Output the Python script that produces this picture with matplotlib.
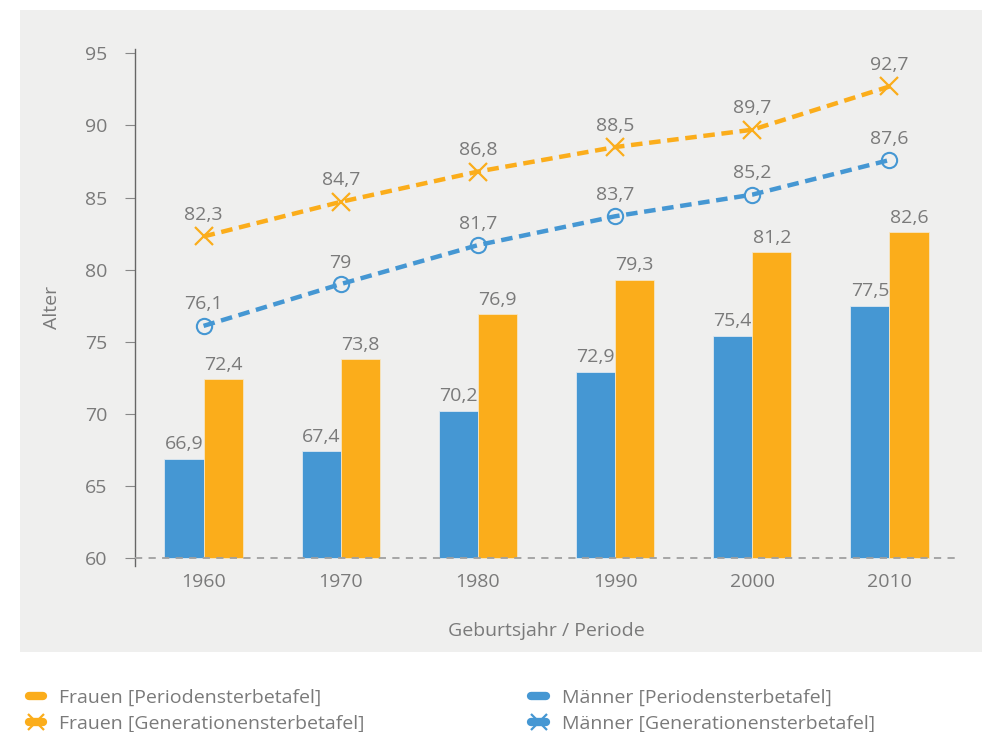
import numpy as np
import matplotlib.pyplot as plt
from matplotlib.patches import Rectangle
from matplotlib.lines import Line2D

plt.rcParams['font.family'] = ['Open Sans', 'DejaVu Sans']

jahre = ['1960', '1970', '1980', '1990', '2000', '2010']
maenner_periode = [66.9, 67.4, 70.2, 72.9, 75.4, 77.5]
frauen_periode = [72.4, 73.8, 76.9, 79.3, 81.2, 82.6]
maenner_gen = [76.1, 79.0, 81.7, 83.7, 85.2, 87.6]
frauen_gen = [82.3, 84.7, 86.8, 88.5, 89.7, 92.7]

blau = '#4597d3'
orange = '#fbad1b'
grau = '#7a7a7a'
fs = 14
basis = 60


def fmt(v):
    # deutsche Schreibweise, ganze Zahlen ohne Nachkomma
    if float(v).is_integer():
        return str(int(v))
    return ('%.1f' % v).replace('.', ',')


fig = plt.figure(figsize=(9.82, 7.32), dpi=100)
fig.add_artist(Rectangle((20 / 982, 80 / 732), 1 - 20 / 982, 642 / 732,
                         transform=fig.transFigure, facecolor='#efefee',
                         edgecolor='none', zorder=-10))

ax = fig.add_axes([135 / 982, 1 - 566 / 732, 823 / 982, 517 / 732])
ax.set_facecolor('none')
ax.set_zorder(2)

x = np.arange(len(jahre))
w = 0.285
ax.bar(x - w / 2, np.array(maenner_periode) - basis, w, bottom=basis,
       color=blau, edgecolor='#dde8f0', linewidth=0.6, zorder=2)
ax.bar(x + w / 2, np.array(frauen_periode) - basis, w, bottom=basis,
       color=orange, edgecolor='#f6e6c4', linewidth=0.6, zorder=2)

ax.plot(x, frauen_gen, color=orange, lw=3.2, dashes=(2.6, 1.5), marker='x',
        ms=13, mew=1.6, zorder=4)
ax.plot(x, maenner_gen, color=blau, lw=3.2, dashes=(2.6, 1.5), marker='o',
        ms=11, mew=1.5, mfc='none', zorder=4)

ax.axhline(basis, color='#a0a0a0', lw=1.3, ls=(0, (4, 3.5)), zorder=3)

for i in range(len(jahre)):
    ax.annotate(fmt(maenner_periode[i]), (x[i] - w / 2, maenner_periode[i]),
                xytext=(0, 4), textcoords='offset points', ha='center',
                va='bottom', fontsize=fs, color=grau)
    ax.annotate(fmt(frauen_periode[i]), (x[i] + w / 2, frauen_periode[i]),
                xytext=(0, 4), textcoords='offset points', ha='center',
                va='bottom', fontsize=fs, color=grau)
    ax.annotate(fmt(frauen_gen[i]), (x[i], frauen_gen[i]),
                xytext=(0, 9), textcoords='offset points', ha='center',
                va='bottom', fontsize=fs, color=grau)
    ax.annotate(fmt(maenner_gen[i]), (x[i], maenner_gen[i]),
                xytext=(0, 9), textcoords='offset points', ha='center',
                va='bottom', fontsize=fs, color=grau)

ax.set_xlim(-0.5, 5.5)
ax.set_ylim(59.45, 95.3)
ax.set_yticks(np.arange(60, 96, 5))
ax.set_xticks(x)
ax.set_xticklabels(jahre)
ax.tick_params(axis='y', length=7, color='#888888', colors=grau,
               labelsize=fs, pad=13)
ax.tick_params(axis='x', length=0, colors=grau, labelsize=fs, pad=5)
for s in ['top', 'right', 'bottom']:
    ax.spines[s].set_visible(False)
ax.spines['left'].set_color('#666666')
ax.spines['left'].set_linewidth(1)

ax.set_ylabel('Alter', color=grau, fontsize=fs, labelpad=17)
ax.set_xlabel('Geburtsjahr / Periode', color=grau, fontsize=fs, labelpad=22)

handles = [
    Line2D([], [], color=orange, lw=6, solid_capstyle='round'),
    Line2D([], [], color=orange, lw=6, solid_capstyle='round', marker='x',
           ms=12, mew=1.6),
    Line2D([], [], color=blau, lw=6, solid_capstyle='round'),
    Line2D([], [], color=blau, lw=6, solid_capstyle='round', marker='x',
           ms=12, mew=1.6),
]
labels = ['Frauen [Periodensterbetafel]', 'Frauen [Generationensterbetafel]',
          'Männer [Periodensterbetafel]', 'Männer [Generationensterbetafel]']
leg = fig.legend(handles, labels, loc='upper left',
                 bbox_to_anchor=(11 / 982, 1 - 671 / 732), ncol=2,
                 frameon=False, fontsize=fs, handlelength=0.75,
                 handletextpad=0.8, columnspacing=8.6, labelspacing=0.45,
                 labelcolor=grau)

fig.savefig('out.png', dpi=100)
